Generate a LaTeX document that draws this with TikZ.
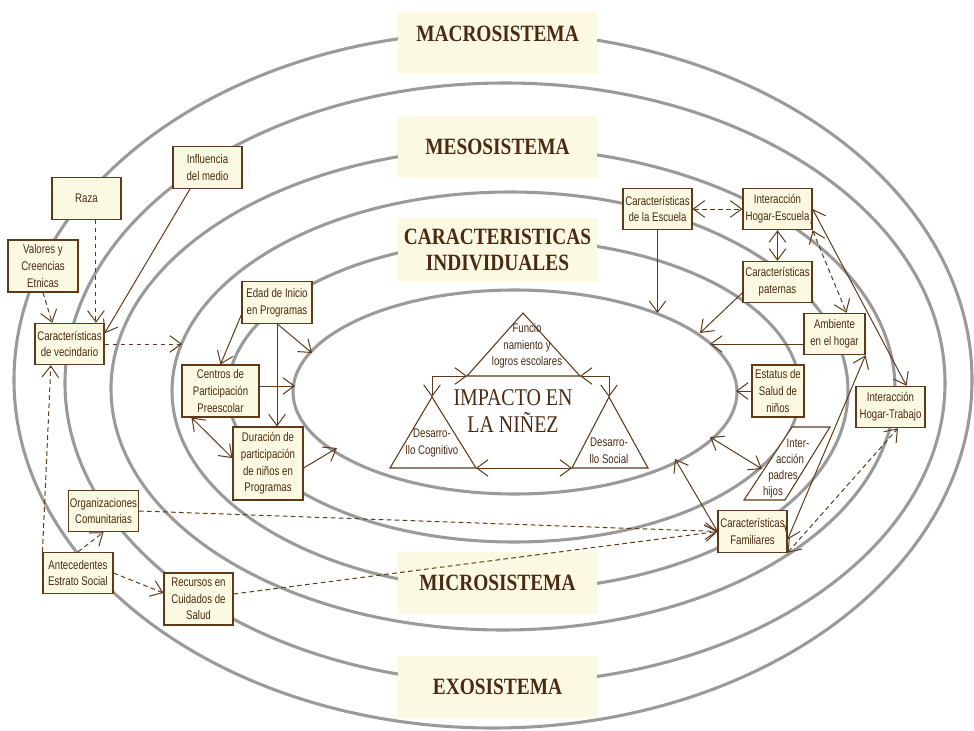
\documentclass[tikz,border=0pt]{standalone}
\usepackage{fontspec}
\usepackage{tikz}
\usetikzlibrary{arrows.meta, calc}
\newfontfamily\narrowsans[FakeStretch=0.77]{Liberation Sans}
\newfontfamily\narrowserif[FakeStretch=0.83]{Liberation Serif}
\definecolor{cream}{HTML}{FCF9E3}
\definecolor{bark}{HTML}{5C3A1A}
\definecolor{barkink}{HTML}{4A2A12}
\definecolor{ringgray}{HTML}{9A9A9A}

\begin{document}
\begin{tikzpicture}[x=0.75pt, y=-0.75pt,
  >={Straight Barb[length=8.5pt,width=12.5pt]},
  ring/.style={draw=ringgray, line width=2.3pt},
  lab/.style={fill=cream, minimum width=149.25pt, minimum height=46.5pt, inner sep=0pt,
    text=barkink, align=center, font=\narrowserif\bfseries\fontsize{17.5}{20}\selectfont},
  box/.style={draw=bark, fill=cream, line width=0.8pt, inner sep=1pt, text=barkink, align=center,
    minimum width=51.75pt, minimum height=31pt, font=\narrowsans\fontsize{9.4}{12.5}\selectfont},
  tall/.style={minimum height=39pt},
  txt/.style={inner sep=0pt, text=barkink, align=center, font=\narrowsans\fontsize{9.4}{12.5}\selectfont},
  tri/.style={draw=bark, fill=white, line width=0.8pt},
  link/.style={draw=bark, line width=0.75pt, ->},
  dlink/.style={link, dash pattern=on 3.5pt off 2.5pt},
  both/.style={<->}]
  \useasboundingbox (0,0) rectangle (974,731);

  % nested systems
  \draw[ring] (493,380) ellipse [x radius=479, y radius=348];
  \draw[ring] (505,383) ellipse [x radius=440, y radius=300];
  \draw[ring] (503,389) ellipse [x radius=392, y radius=241];
  \draw[ring] (510,391) ellipse [x radius=338, y radius=199];
  \draw[ring] (514,391) ellipse [x radius=286, y radius=151];
  \draw[ring] (515,392) ellipse [x radius=222, y radius=102];

  \node[lab, text height=12pt, text depth=13.5pt, inner ysep=10.5pt] (macro) at (497.5,43) {MACROSISTEMA};
  \node[lab] (meso) at (497.5,147) {MESOSISTEMA};
  \node[lab, minimum height=48pt] (indiv) at (497.5,250) {CARACTERISTICAS\\INDIVIDUALES};
  \node[lab] (micro) at (497.5,583) {MICROSISTEMA};
  \node[lab] (exo) at (497.5,687) {EXOSISTEMA};

  % left side
  \node[box] (raza) at (86.5,198.5) {Raza};
  \node[box, tall, minimum width=52.5pt] (valores) at (43,266) {Valores y\\Creencias\\Etnicas};
  \node[box] (influencia) at (207.5,167.5) {Influencia\\del medio};
  \node[box] (vecindario) at (69.5,344) {Características\\de vecindario};
  \node[box, minimum width=52.5pt] (edad) at (277,302.5) {Edad de Inicio\\en Programas};
  \node[box, tall, minimum width=57.75pt] (centros) at (220.5,391) {Centros de\\Participación\\Preescolar};
  \node[box, minimum width=52.5pt, minimum height=54.75pt] (duracion) at (268,463.5) {Duración de\\participación\\de niños en\\Programas};
  \node[box] (organizaciones) at (103.5,511) {Organizaciones\\Comunitarias};
  \node[box, minimum width=52.5pt] (antecedentes) at (78,573) {Antecedentes\\Estrato Social};
  \node[box, tall] (recursos) at (198.5,599) {Recursos en\\Cuidados de\\Salud};

  % right side
  \node[box] (escuela) at (657.5,209) {Características\\de la Escuela};
  \node[box] (hogaresc) at (777.5,209) {Interacción\\Hogar-Escuela};
  \node[box] (paternas) at (777.5,282) {Características\\paternas};
  \node[box, minimum width=45.75pt] (ambiente) at (834.5,334) {Ambiente\\en el hogar};
  \node[box, tall, minimum width=39pt] (estatus) at (778,391) {Estatus de\\Salud de\\niños};
  \node[box] (hogartrab) at (890.5,407) {Interacción\\Hogar-Trabajo};
  \node[box] (familiares) at (752.5,531.5) {Características\\Familiares};

  % the child at the centre
  \draw[tri] (523,313) coordinate (fun) -- (580,376) coordinate (funr) -- (467,376) coordinate (funl) -- cycle;
  \draw[tri] (432,397) coordinate (cog) -- (476,468) coordinate (cogr) -- (390,468) coordinate (cogl) -- cycle;
  \draw[tri] (609,397) coordinate (soc) -- (648,468) coordinate (socr) -- (572,468) coordinate (socl) -- cycle;
  \node[txt] (funtxt) at (527,346) {Funcio\\namiento y\\logros escolares};
  \node[txt] (cogtxt) at (432,443) {Desarro-\\llo Cognitivo};
  \node[txt] (soctxt) at (609,451) {Desarro-\\llo Social};
  \node[text=barkink, align=center, inner sep=0pt, font=\narrowserif\fontsize{18}{20.25}\selectfont] (impacto) at (513,411) {IMPACTO EN\\LA NIÑEZ};

  \draw[tri] (792,427) coordinate (ptl) -- (830,427) coordinate (ptr) -- (785,500) coordinate (pbr) -- (744,500) coordinate (pbl) -- cycle;
  \foreach \t/\xx/\yy [count=\i] in {Inter-/798/443, acción/790/459, padres/783/476, hijos/773/492}
    \node[txt] (padres\i) at (\xx,\yy) {\t};

  % points on the rings
  \coordinate (r4a) at (182,344);
  \coordinate (r6a) at (312,353);
  \coordinate (r6b) at (295,386);
  \coordinate (r6c) at (337,448);
  \coordinate (r6d) at (657.5,313);
  \coordinate (r6e) at (700,333);
  \coordinate (r6f) at (710,344);
  \coordinate (r6g) at (736,391);
  \coordinate (r6h) at (710,437);
  \coordinate (r6i) at (675,459);
  \coordinate (pml) at (762,469);

  \draw[dlink] ([xshift=7.1pt]raza.south) -- ([xshift=7.1pt]raza.south |- vecindario.north);
  \draw[dlink] (valores.south) -- ([xshift=-13pt]vecindario.north);
  \draw[link] ([xshift=-13pt]influencia.south) -- ([yshift=8pt]vecindario.east);
  \draw[dlink] (vecindario.east) -- (r4a);
  \draw[dlink] (antecedentes.north west) -- ([xshift=-14pt]vecindario.south);
  \draw[dlink] (antecedentes.north) -- (organizaciones.south);
  \draw[dlink] (antecedentes.east) -- ([yshift=4.5pt]recursos.west);
  \draw[dlink] (organizaciones.east) -- (familiares.west);
  \draw[dlink] ([yshift=3.75pt]recursos.east) -- (familiares.west);

  \draw[link] ([yshift=-9pt]edad.west) -- (centros.north);
  \draw[link] (edad.south) -- (edad.south |- duracion.north);
  \draw[link] (edad.south) -- (r6a);
  \draw[link] (r6b -| centros.east) -- (r6b);
  \draw[link, both] ([xshift=7.5pt]centros.south west) -- ([yshift=4pt]duracion.west);
  \draw[link] ([yshift=-3.4pt]duracion.east) -- (r6c);

  \draw[link, both] (funl) -| (cog);
  \draw[link, both] (funr) -| (soc);
  \draw[link, both] (cogr) -- (socl);

  \draw[dlink, both] (escuela.east) -- (hogaresc.west);
  \draw[link] (escuela.south) -- (r6d);
  \draw[link, both] (hogaresc.south) -- (paternas.north);
  \draw[link] ([yshift=-8pt]paternas.west) -- (r6e);
  \draw[link] (r6f -| ambiente.west) -- (r6f);
  \draw[dlink, both] (hogaresc.south east) -- ([xshift=9pt]ambiente.north);
  \draw[link, both] (hogaresc.east) -- ([xshift=12pt]hogartrab.north);
  \draw[link] (estatus.west) -- (r6g);
  \draw[link, both] ([yshift=-6pt]familiares.east) -- (ambiente.south east);
  \draw[dlink, both] (familiares.south east) -- ([xshift=5.6pt]hogartrab.south);
  \draw[link, both] (r6h) -- (pml);
  \draw[link, both] (r6i) -- (familiares.west);
\end{tikzpicture}
\end{document}
